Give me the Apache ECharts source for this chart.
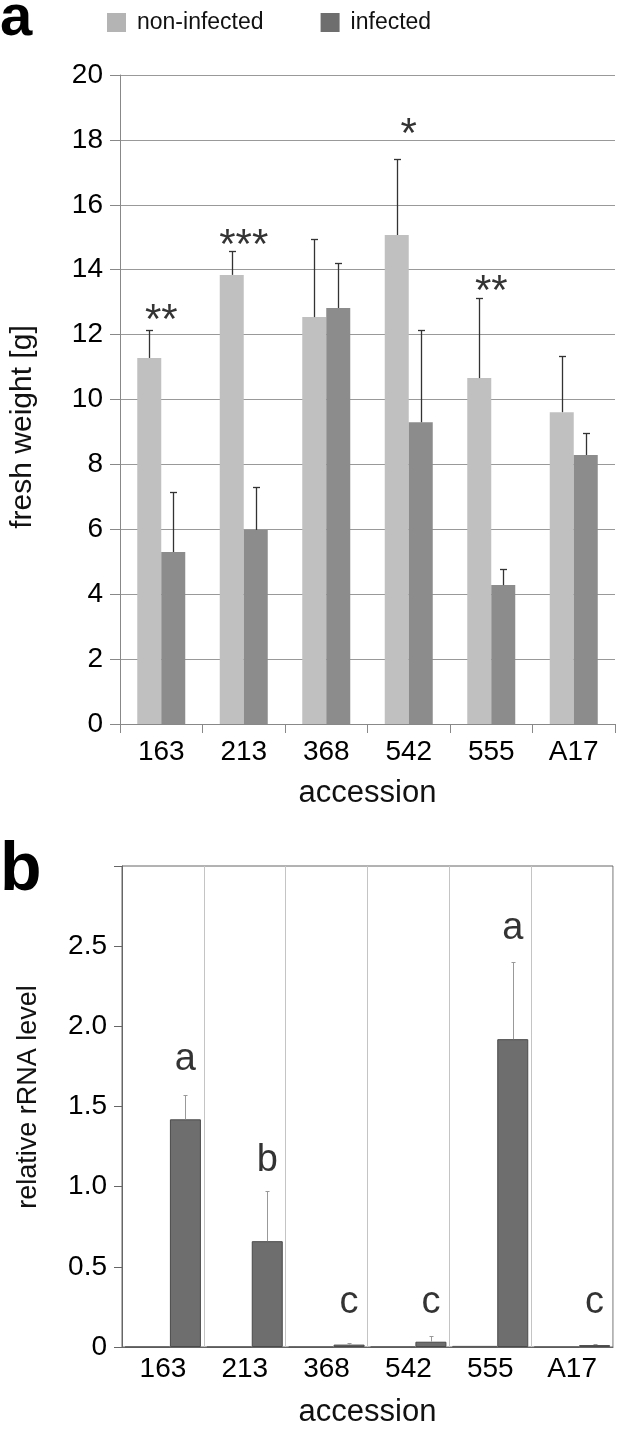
<!DOCTYPE html>
<html><head><meta charset="utf-8">
<script src="https://cdn.jsdelivr.net/npm/echarts@6/dist/echarts.min.js"></script>
<style>html,body{margin:0;padding:0;background:#fff}#c{width:619px;height:1429px}</style>
</head><body><div id="c"></div>
<script>
// ---- data ----
const categories = ['163', '213', '368', '542', '555', 'A17'];
// panel a: fresh weight [g]
const weightNonInfected    = [11.28, 13.84, 12.54, 15.07, 10.66, 9.61];
const weightNonInfectedTop = [12.14, 14.58, 14.95, 17.41, 13.13, 11.34]; // top of error bar
const weightInfected       = [5.30, 5.98, 12.82, 9.30, 4.28, 8.29];
const weightInfectedTop    = [7.15, 7.30, 14.20, 12.14, 4.78, 8.97];
const stars = ['**', '***', '', '*', '**', ''];
const starLevel = [12.67, 15.0, '-', 18.4, 13.59, '-'];
const weightTicks = { min: 0, max: 20, interval: 2 };
// panel b: relative rRNA level
const rrnaNonInfected = [0.002, 0.002, 0.002, 0.003, 0.006, 0.002];
const rrnaInfected    = [1.42, 0.66, 0.015, 0.033, 1.92, 0.012];
const rrnaInfectedTop = [1.57, 0.97, 0.022, 0.069, 2.40, 0.020];
const letters = ['a', 'b', 'c', 'c', 'a', 'c'];
const letterLevel = [1.79, 1.16, 0.275, 0.275, 2.61, 0.275];
const rrnaTicks = { min: 0, max: 3, interval: 0.5 };

const FONT = 'Liberation Sans, Arial, Helvetica, sans-serif';
const TXT = '#000';

function errSeries(xi, yi, vals, tops, offsetPx, color, capHalf, lw) {
  return {
    type: 'custom', xAxisIndex: xi, yAxisIndex: yi, silent: true, z: 5,
    data: vals.map((v, i) => [i, v, tops[i]]),
    encode: { x: 0, y: [1, 2] },
    renderItem: (params, api) => {
      const b = api.coord([api.value(0), api.value(1)]);
      const t = api.coord([api.value(0), api.value(2)]);
      const x = Math.round(b[0] + offsetPx) + 0.5;
      const ty = Math.round(t[1]) + 0.5;
      return { type: 'group', children: [
        { type: 'line', shape: { x1: x, y1: b[1], x2: x, y2: ty }, style: { stroke: color, lineWidth: lw } },
        { type: 'line', shape: { x1: x - capHalf, y1: ty, x2: x + capHalf, y2: ty }, style: { stroke: color, lineWidth: lw } }
      ] };
    }
  };
}

const chart = echarts.init(document.getElementById('c'), null, { renderer: 'canvas' });
chart.setOption({
  animation: false,
  backgroundColor: '#fff',
  textStyle: { fontFamily: FONT },
  graphic: [
    { type: 'text', left: 0, top: -10, style: { text: 'a', font: 'bold 58px ' + FONT, fill: '#000' } },
    { type: 'text', left: 0, top: 837, style: { text: 'b', font: 'bold 68px ' + FONT, fill: '#000' } }
  ],
  legend: {
    top: 6, left: 102, itemWidth: 19, itemHeight: 19, itemGap: 57, icon: 'rect',
    textStyle: { fontSize: 23, color: '#111', fontFamily: FONT, padding: [0, 0, 0, 6] },
    data: [
      { name: 'non-infected', itemStyle: { color: '#b4b4b4' } },
      { name: 'infected', itemStyle: { color: '#6e6e6e' } }
    ]
  },
  grid: [
    { left: 120, right: 4, top: 75, bottom: 705 },
    { left: 122, right: 6, top: 866, bottom: 82, show: true, borderColor: '#666', borderWidth: 1 }
  ],
  xAxis: [
    {
      type: 'category', gridIndex: 0, data: categories,
      name: 'accession', nameLocation: 'middle', nameGap: 54, nameMoveOverlap: false,
      nameTextStyle: { fontSize: 31, color: '#111', fontFamily: FONT },
      axisLine: { lineStyle: { color: '#888', width: 1 } },
      axisTick: { show: true, length: 9, lineStyle: { color: '#888' } },
      axisLabel: { fontSize: 28, color: TXT, margin: 14, fontFamily: FONT },
      splitLine: { show: false }
    },
    {
      type: 'category', gridIndex: 1, data: categories,
      name: 'accession', nameLocation: 'middle', nameGap: 50, nameMoveOverlap: false,
      nameTextStyle: { fontSize: 31, color: '#111', fontFamily: FONT },
      axisLine: { lineStyle: { color: '#666', width: 1 } },
      axisTick: { show: false },
      axisLabel: { fontSize: 28, color: TXT, margin: 8, fontFamily: FONT },
      splitLine: { show: true, interval: 0, lineStyle: { color: '#c4c4c4', width: 1 } }
    }
  ],
  yAxis: [
    {
      type: 'value', gridIndex: 0, min: weightTicks.min, max: weightTicks.max, interval: weightTicks.interval,
      name: 'fresh weight [g]', nameLocation: 'middle', nameGap: 82, nameRotate: 90, nameMoveOverlap: false,
      nameTextStyle: { fontSize: 30, color: '#111', fontFamily: FONT, padding: [0, 55, 0, 0] },
      axisLine: { show: true, lineStyle: { color: '#888' } },
      axisTick: { show: true, length: 10, lineStyle: { color: '#888' } },
      axisLabel: { fontSize: 28, color: TXT, margin: 17, fontFamily: FONT },
      splitLine: { show: true, lineStyle: { color: '#999', width: 1.2 } }
    },
    {
      type: 'value', gridIndex: 1, min: rrnaTicks.min, max: rrnaTicks.max, interval: rrnaTicks.interval,
      name: 'relative rRNA level', nameLocation: 'middle', nameGap: 80, nameRotate: 90, nameMoveOverlap: false,
      nameTextStyle: { fontSize: 27, color: '#111', fontFamily: FONT, padding: [0, 0, 0, 19] },
      axisLine: { show: true, lineStyle: { color: '#666' } },
      axisTick: { show: true, length: 8, lineStyle: { color: '#666' } },
      axisLabel: {
        fontSize: 28, color: TXT, margin: 15, fontFamily: FONT,
        formatter: v => v === 0 ? '0' : (v >= rrnaTicks.max ? '' : v.toFixed(1))
      },
      splitLine: { show: false }
    }
  ],
  series: [
    { name: 'non-infected', type: 'bar', xAxisIndex: 0, yAxisIndex: 0, data: weightNonInfected,
      barWidth: 24, barGap: '0%', itemStyle: { color: '#c0c0c0' } },
    { name: 'infected', type: 'bar', xAxisIndex: 0, yAxisIndex: 0, data: weightInfected,
      barWidth: 24, barGap: '0%', itemStyle: { color: '#8c8c8c' } },
    errSeries(0, 0, weightNonInfected, weightNonInfectedTop, -12, '#333', 3.5, 1.3),
    errSeries(0, 0, weightInfected, weightInfectedTop, 12, '#333', 3.5, 1.3),
    { type: 'scatter', xAxisIndex: 0, yAxisIndex: 0, data: starLevel, symbolSize: 1,
      itemStyle: { color: 'rgba(0,0,0,0)' }, silent: true, z: 6,
      label: { show: true, position: 'inside', offset: [0, 9], fontSize: 42, color: '#000', fontFamily: FONT,
               formatter: p => stars[p.dataIndex] } },

    { name: 'non-infected', type: 'bar', xAxisIndex: 1, yAxisIndex: 1, data: rrnaNonInfected,
      barWidth: 45, barGap: '0%', itemStyle: { color: '#6e6e6e', borderColor: '#4a4a4a', borderWidth: 0.6 } },
    { name: 'infected', type: 'bar', xAxisIndex: 1, yAxisIndex: 1, data: rrnaInfected,
      barWidth: 31, barGap: '0%', itemStyle: { color: '#6e6e6e', borderColor: '#4a4a4a', borderWidth: 1 } },
    errSeries(1, 1, rrnaInfected, rrnaInfectedTop, 22.5, '#999', 2, 1),
    { type: 'scatter', xAxisIndex: 1, yAxisIndex: 1, data: letterLevel, symbolSize: 1,
      itemStyle: { color: 'rgba(0,0,0,0)' }, silent: true, z: 6,
      label: { show: true, position: 'inside', offset: [22.5, 0], fontSize: 38, color: '#000', fontFamily: FONT,
               formatter: p => letters[p.dataIndex] } }
  ]
});
</script></body></html>
